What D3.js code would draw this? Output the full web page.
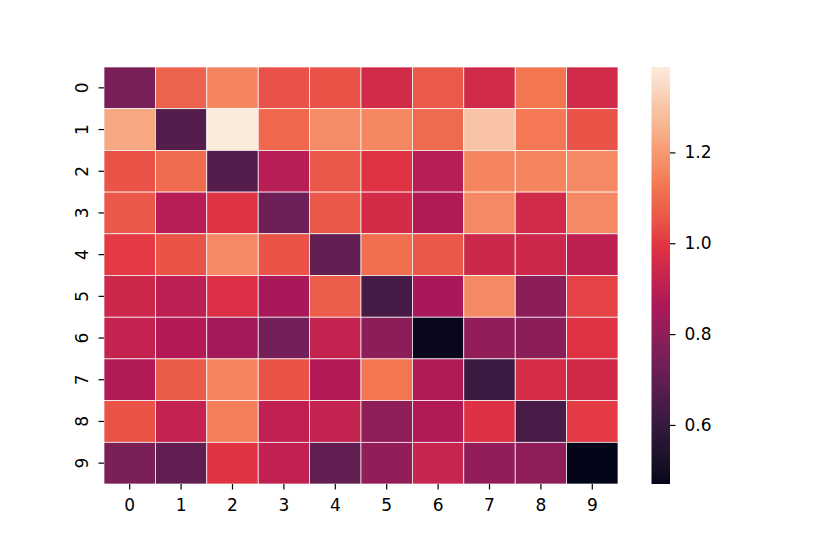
<html>
<head>
<meta charset="UTF-8">
<script src="https://d3js.org/d3.v7.min.js"></script>
<style>
  body { margin: 0; background: white; }
  text { font-family: "DejaVu Sans", sans-serif; fill: #000; }
  .axis .domain { display: none; }
</style>
</head>
<body>
<svg id="chart" width="830" height="554"></svg>
<script>
// heatmap values, row by row (rows 0..9, columns 0..9)
const rowLabels = ['0','1','2','3','4','5','6','7','8','9'];
const colLabels = ['0','1','2','3','4','5','6','7','8','9'];
const row0 = [0.75, 1.08, 1.155, 1.047, 1.05, 0.955, 1.062, 0.955, 1.125, 0.955];
const row1 = [1.23, 0.67, 1.388, 1.094, 1.17, 1.16, 1.10, 1.295, 1.13, 1.05];
const row2 = [1.05, 1.10, 0.67, 0.89, 1.06, 0.99, 0.89, 1.155, 1.155, 1.165];
const row3 = [1.06, 0.89, 0.99, 0.73, 1.06, 0.96, 0.875, 1.165, 0.955, 1.165];
const row4 = [1.005, 1.05, 1.165, 1.05, 0.705, 1.11, 1.06, 0.94, 0.94, 0.905];
const row5 = [0.94, 0.90, 0.98, 0.855, 1.07, 0.64, 0.855, 1.165, 0.79, 1.02];
const row6 = [0.92, 0.88, 0.845, 0.74, 0.92, 0.79, 0.48, 0.805, 0.79, 0.99];
const row7 = [0.875, 1.065, 1.155, 1.05, 0.88, 1.125, 0.875, 0.615, 0.965, 0.95];
const row8 = [1.05, 0.92, 1.145, 0.91, 0.92, 0.80, 0.875, 0.985, 0.645, 1.005];
const row9 = [0.755, 0.70, 0.995, 0.91, 0.705, 0.805, 0.925, 0.805, 0.80, 0.47];
const rows = [row0, row1, row2, row3, row4, row5, row6, row7, row8, row9];
const cbarTicks = [0.6, 0.8, 1.0, 1.2];

// approximate seaborn "rocket" colormap
const rocketStops = ['#03051a', '#35193e', '#701f57', '#ad1759', '#e13342', '#f37651', '#f6b48f', '#faebdd'];
const rocket = d3.scaleLinear()
  .domain(d3.range(rocketStops.length).map(i => i / (rocketStops.length - 1)))
  .range(rocketStops)
  .interpolate(d3.interpolateLab);

const svg = d3.select('#chart');
const plot = { left: 104, right: 618, top: 67, bottom: 484 };
const cbar = { left: 651.5, right: 670, top: 67, bottom: 484 };
const fontSize = 17;

const allValues = rows.flat();
const vmin = d3.min(allValues), vmax = d3.max(allValues);
const norm = d3.scaleLinear().domain([vmin, vmax]).range([0, 1]);
const color = v => rocket(norm(v));

const x = d3.scaleBand().domain(colLabels).range([plot.left, plot.right]);
const y = d3.scaleBand().domain(rowLabels).range([plot.top, plot.bottom]);

// cells
const cells = [];
rows.forEach((r, i) => r.forEach((v, j) => cells.push({ row: rowLabels[i], col: colLabels[j], v })));

svg.append('g').selectAll('rect').data(cells).join('rect')
  .attr('x', d => x(d.col))
  .attr('y', d => y(d.row))
  .attr('width', x.bandwidth())
  .attr('height', y.bandwidth())
  .attr('fill', d => color(d.v))
  .attr('stroke', 'white')
  .attr('stroke-width', 0.7);

// axes
const xAxis = svg.append('g').attr('class', 'axis')
  .attr('transform', `translate(0,${plot.bottom})`)
  .call(d3.axisBottom(x).tickSize(5.5).tickPadding(9));
xAxis.selectAll('text').attr('font-size', fontSize);
xAxis.selectAll('line').attr('stroke-width', 1.2);

const yAxis = svg.append('g').attr('class', 'axis')
  .attr('transform', `translate(${plot.left},0)`)
  .call(d3.axisLeft(y).tickSize(5.5).tickPadding(9));
yAxis.selectAll('text')
  .attr('font-size', fontSize)
  .attr('text-anchor', 'middle')
  .attr('dy', '0.35em')
  .attr('x', 0)
  .attr('transform', 'translate(-22,0) rotate(-90)');
yAxis.selectAll('line').attr('stroke-width', 1.2);

// colorbar
const defs = svg.append('defs');
const grad = defs.append('linearGradient').attr('id', 'cbar')
  .attr('x1', 0).attr('y1', 1).attr('x2', 0).attr('y2', 0);
grad.selectAll('stop').data(d3.range(0, 1.0001, 0.02)).join('stop')
  .attr('offset', d => d)
  .attr('stop-color', d => rocket(d));

svg.append('rect')
  .attr('x', cbar.left).attr('y', cbar.top)
  .attr('width', cbar.right - cbar.left).attr('height', cbar.bottom - cbar.top)
  .attr('fill', 'url(#cbar)');

const cy = d3.scaleLinear().domain([vmin, vmax]).range([cbar.bottom, cbar.top]);
const cAxis = svg.append('g').attr('class', 'axis')
  .attr('transform', `translate(${cbar.right},0)`)
  .call(d3.axisRight(cy).tickValues(cbarTicks).tickFormat(d3.format('.1f')).tickSize(5.5).tickPadding(9));
cAxis.selectAll('text').attr('font-size', fontSize);
cAxis.selectAll('line').attr('stroke-width', 1.2);
</script>
</body>
</html>
